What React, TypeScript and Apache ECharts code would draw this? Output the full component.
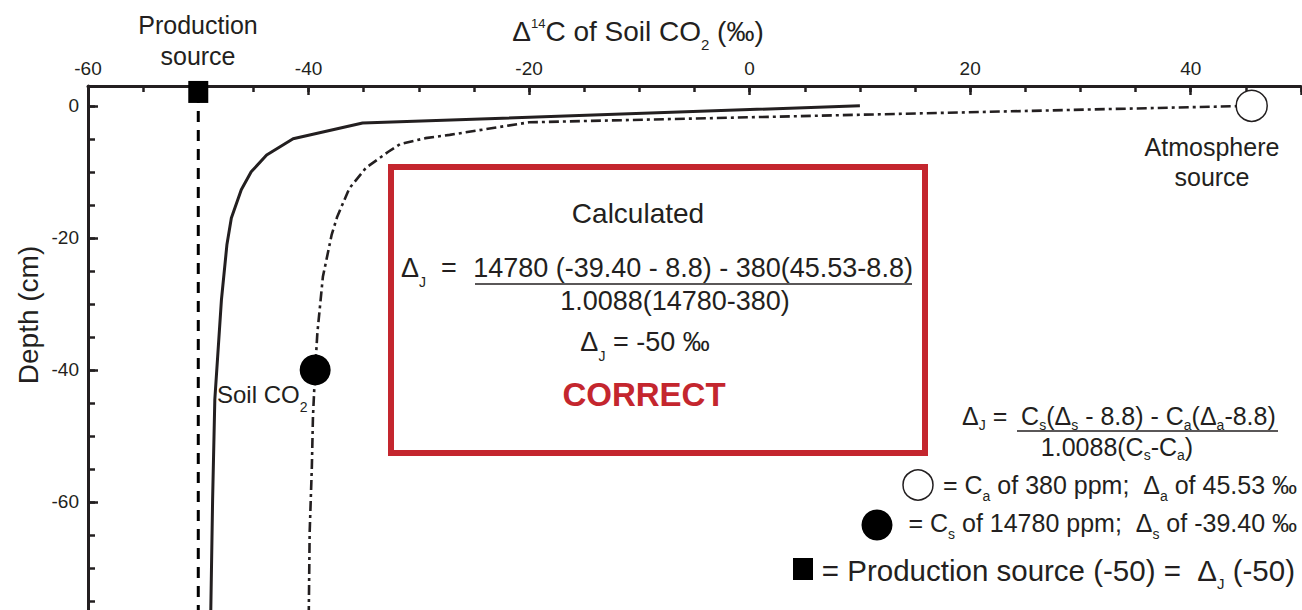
import React, { useEffect, useRef } from "react";
import * as echarts from "echarts";

// ---- data ----
const xTickLabels = [-60, -40, -20, 0, 20, 40];
const yTickLabels = [0, -20, -40, -60];

// solid curve (Δ14C of soil CO2 profile)
const solidX = [10, -35.1, -41.4, -43.8, -45.2, -46.1, -47.0, -47.4, -47.9, -48.5, -48.7, -48.9];
const solidY = [0, -2.6, -5.0, -7.45, -10.0, -12.7, -17.0, -21.0, -29.4, -44.5, -59.7, -80];

// dash-dot curve (mixing curve with atmosphere)
const mixX = [45.53, -20, -27.2, -29.4, -31.7, -32.8, -34.8, -36.3, -37.4, -37.9, -38.7, -39.2, -39.4, -39.6, -39.7, -39.9, -40.0];
const mixY = [0, -2.5, -4.4, -4.9, -5.8, -7.0, -9.4, -12.5, -16.8, -19.5, -25.9, -34.4, -40, -47.1, -54.7, -64.7, -80];

const productionSource = [-50, 2.1];
const productionLineY = [2.1, -80];
const atmospherePoint = [45.53, 0];
const soilPoint = [-39.4, -40];

const FONT = "'Liberation Sans', Arial, Helvetica, sans-serif";
const INK = "#231f20";
const RED = "#c4262e";

function rich(main: number, sub: number, H: number, L: number, supPad = 0, supSize = sub) {
  return {
    m: { fontSize: main, fontFamily: FONT, fill: INK, color: INK, lineHeight: H },
    s: { fontSize: sub, fontFamily: FONT, fill: INK, color: INK, lineHeight: L, verticalAlign: "bottom" },
    p: { fontSize: supSize, fontFamily: FONT, fill: INK, color: INK, verticalAlign: "top", padding: [supPad, 0, 0, 0] },
  };
}

function txt(x: number, y: number, text: string, r: any, align = "left", extra: any = {}) {
  return {
    type: "text",
    x,
    y,
    z: 100,
    style: {
      text,
      rich: r,
      fill: INK,
      align,
      textAlign: align,
      verticalAlign: "middle",
      textVerticalAlign: "middle",
      fontFamily: FONT,
      ...extra,
    },
  };
}

export default function App() {
  const ref = useRef<HTMLDivElement>(null);
  useEffect(() => {
    if (!ref.current) return;
    const chart = echarts.init(ref.current, undefined, { renderer: "svg" });
    const fmt = (v: number) => (xTickLabels.includes(v) || yTickLabels.includes(v) ? String(v) : "");
    const majorTick = { show: true, inside: true, length: 9, lineStyle: { color: INK, width: 2.5 } };
    const minorTick = { show: true, inside: true, length: 6, lineStyle: { color: INK, width: 2.5 } };
    const axisLine = { show: true, onZero: false, lineStyle: { color: INK, width: 3 } };
    const option: any = {
      animation: false,
      backgroundColor: "#ffffff",
      grid: { left: 88, right: 0, top: 86, bottom: 0, containLabel: false },
      xAxis: [
        {
          type: "value", position: "top", min: -60, max: 50, interval: 20,
          axisLine, axisTick: majorTick, splitLine: { show: false },
          axisLabel: { formatter: fmt, color: INK, fontSize: 19, fontFamily: FONT, margin: 8 },
        },
        {
          type: "value", position: "top", min: -60, max: 50, interval: 5, offset: 0,
          axisLine: { show: false, onZero: false }, axisTick: minorTick, splitLine: { show: false },
          axisLabel: { show: false },
        },
      ],
      yAxis: [
        {
          type: "value", position: "left", min: -80, max: 3, interval: 20,
          axisLine, axisTick: { ...majorTick, length: 10 }, splitLine: { show: false },
          axisLabel: { formatter: fmt, color: INK, fontSize: 19, fontFamily: FONT, margin: 9 },
        },
        {
          type: "value", position: "left", min: -80, max: 3, interval: 5, offset: 0,
          axisLine: { show: false, onZero: false }, axisTick: { ...minorTick, length: 7 }, splitLine: { show: false },
          axisLabel: { show: false },
        },
      ],
      series: [
        {
          type: "line", data: productionLineY.map((y) => [productionSource[0], y]),
          showSymbol: false, symbol: "none",
          lineStyle: { color: "#000", width: 3, type: [11, 8] }, z: 3,
        },
        {
          type: "line", data: solidX.map((x, i) => [x, solidY[i]]),
          showSymbol: false, symbol: "none",
          lineStyle: { color: INK, width: 3 }, z: 3,
        },
        {
          type: "line", data: mixX.map((x, i) => [x, mixY[i]]),
          showSymbol: false, symbol: "none",
          lineStyle: { color: INK, width: 2.6, type: [10, 4, 3, 4] }, z: 3,
        },
        {
          type: "scatter", data: [productionSource], symbol: "rect", symbolSize: [20, 22],
          itemStyle: { color: "#000", opacity: 1 }, z: 5,
        },
        {
          type: "scatter", data: [atmospherePoint], symbol: "circle", symbolSize: 31,
          itemStyle: { color: "#fff", borderColor: INK, borderWidth: 1.5, opacity: 1 }, z: 5,
        },
        {
          type: "scatter", data: [soilPoint], symbol: "circle", symbolSize: 31,
          itemStyle: { color: "#000", opacity: 1 }, z: 5,
        },
      ],
      graphic: [
        // axis titles
        txt(638, 31, "{m|Δ}{p|14}{m|C of Soil CO}{s|2}{m| (‰)}", rich(28, 15, 42, 18, 7, 13), "center"),
        {
          type: "text", x: 28, y: 315, rotation: Math.PI / 2, z: 100,
          style: { text: "Depth (cm)", fontSize: 28, fontFamily: FONT, fill: INK, align: "center", verticalAlign: "middle", textAlign: "center", textVerticalAlign: "middle" },
        },
        {
          type: "text", x: 198, y: 40, z: 100,
          style: { text: "Production\nsource", fontSize: 25, lineHeight: 31, fontFamily: FONT, fill: INK, align: "center", verticalAlign: "middle", textAlign: "center", textVerticalAlign: "middle" },
        },
        {
          type: "text", x: 1212, y: 162, z: 100,
          style: { text: "Atmosphere\nsource", fontSize: 25, lineHeight: 30, fontFamily: FONT, fill: INK, align: "center", verticalAlign: "middle", textAlign: "center", textVerticalAlign: "middle" },
        },
        txt(217, 394, "{m|Soil CO}{s|2}", rich(24, 14, 40, 14), "left"),
        // red box
        {
          type: "rect", z: 50,
          shape: { x: 391, y: 167, width: 534, height: 286 },
          style: { fill: "none", stroke: RED, lineWidth: 6 },
        },
        {
          type: "text", x: 638, y: 213, z: 100,
          style: { text: "Calculated", fontSize: 28, fontFamily: FONT, fill: INK, align: "center", verticalAlign: "middle", textAlign: "center", textVerticalAlign: "middle" },
        },
        txt(401, 268, "{m|Δ}{s|J}{m| \u00a0=}", rich(27, 14, 42, 16), "left"),
        txt(693, 268, "{m|14780 (-39.40 - 8.8) - 380(45.53-8.8)}", rich(27, 14, 30, 16), "center"),
        { type: "line", z: 100, shape: { x1: 475, y1: 284, x2: 912, y2: 284 }, style: { stroke: INK, lineWidth: 1.5 } },
        txt(675, 301, "{m|1.0088(14780-380)}", rich(27, 14, 30, 16), "center"),
        txt(645, 342, "{m|Δ}{s|J}{m| = -50 ‰}", rich(27, 14, 42, 16), "center"),
        {
          type: "text", x: 644, y: 394, z: 100,
          style: { text: "CORRECT", fontSize: 33, fontWeight: "bold", fontFamily: FONT, fill: RED, align: "center", verticalAlign: "middle", textAlign: "center", textVerticalAlign: "middle" },
        },
        // legend / formula at bottom right
        txt(962, 416, "{m|Δ}{s|J}{m| =  C}{s|s}{m|(Δ}{s|s}{m| - 8.8) - C}{s|a}{m|(Δ}{s|a}{m|-8.8)}", rich(25, 14, 32, 16), "left"),
        { type: "line", z: 100, shape: { x1: 1017, y1: 431, x2: 1278, y2: 431 }, style: { stroke: INK, lineWidth: 1.5 } },
        txt(1117, 447, "{m|1.0088(C}{s|s}{m|-C}{s|a}{m|)}", rich(25, 14, 30, 16), "center"),
        { type: "circle", z: 100, shape: { cx: 918, cy: 485, r: 15 }, style: { fill: "#fff", stroke: INK, lineWidth: 1.5 } },
        txt(1297, 485, "{m|= C}{s|a}{m| of 380 ppm;\u00a0 Δ}{s|a}{m| of 45.53 ‰}", rich(25, 14, 36, 16), "right"),
        { type: "circle", z: 100, shape: { cx: 877, cy: 525, r: 15.5 }, style: { fill: "#000" } },
        txt(1297, 523, "{m|= C}{s|s}{m| of 14780 ppm;\u00a0 Δ}{s|s}{m| of -39.40 ‰}", rich(25, 14, 36, 16), "right"),
        { type: "rect", z: 100, shape: { x: 793, y: 558, width: 20, height: 22 }, style: { fill: "#000" } },
        txt(1295, 570, "{m|= Production source (-50) =\u00a0 Δ}{s|J}{m| (-50)}", rich(29.5, 15, 42, 18), "right"),
      ],
    };
    chart.setOption(option);
    return () => chart.dispose();
  }, []);
  return (
    <div
      ref={ref}
      style={{ position: "fixed", left: 0, top: 0, width: 1304, height: 634, background: "#fff" }}
    />
  );
}
